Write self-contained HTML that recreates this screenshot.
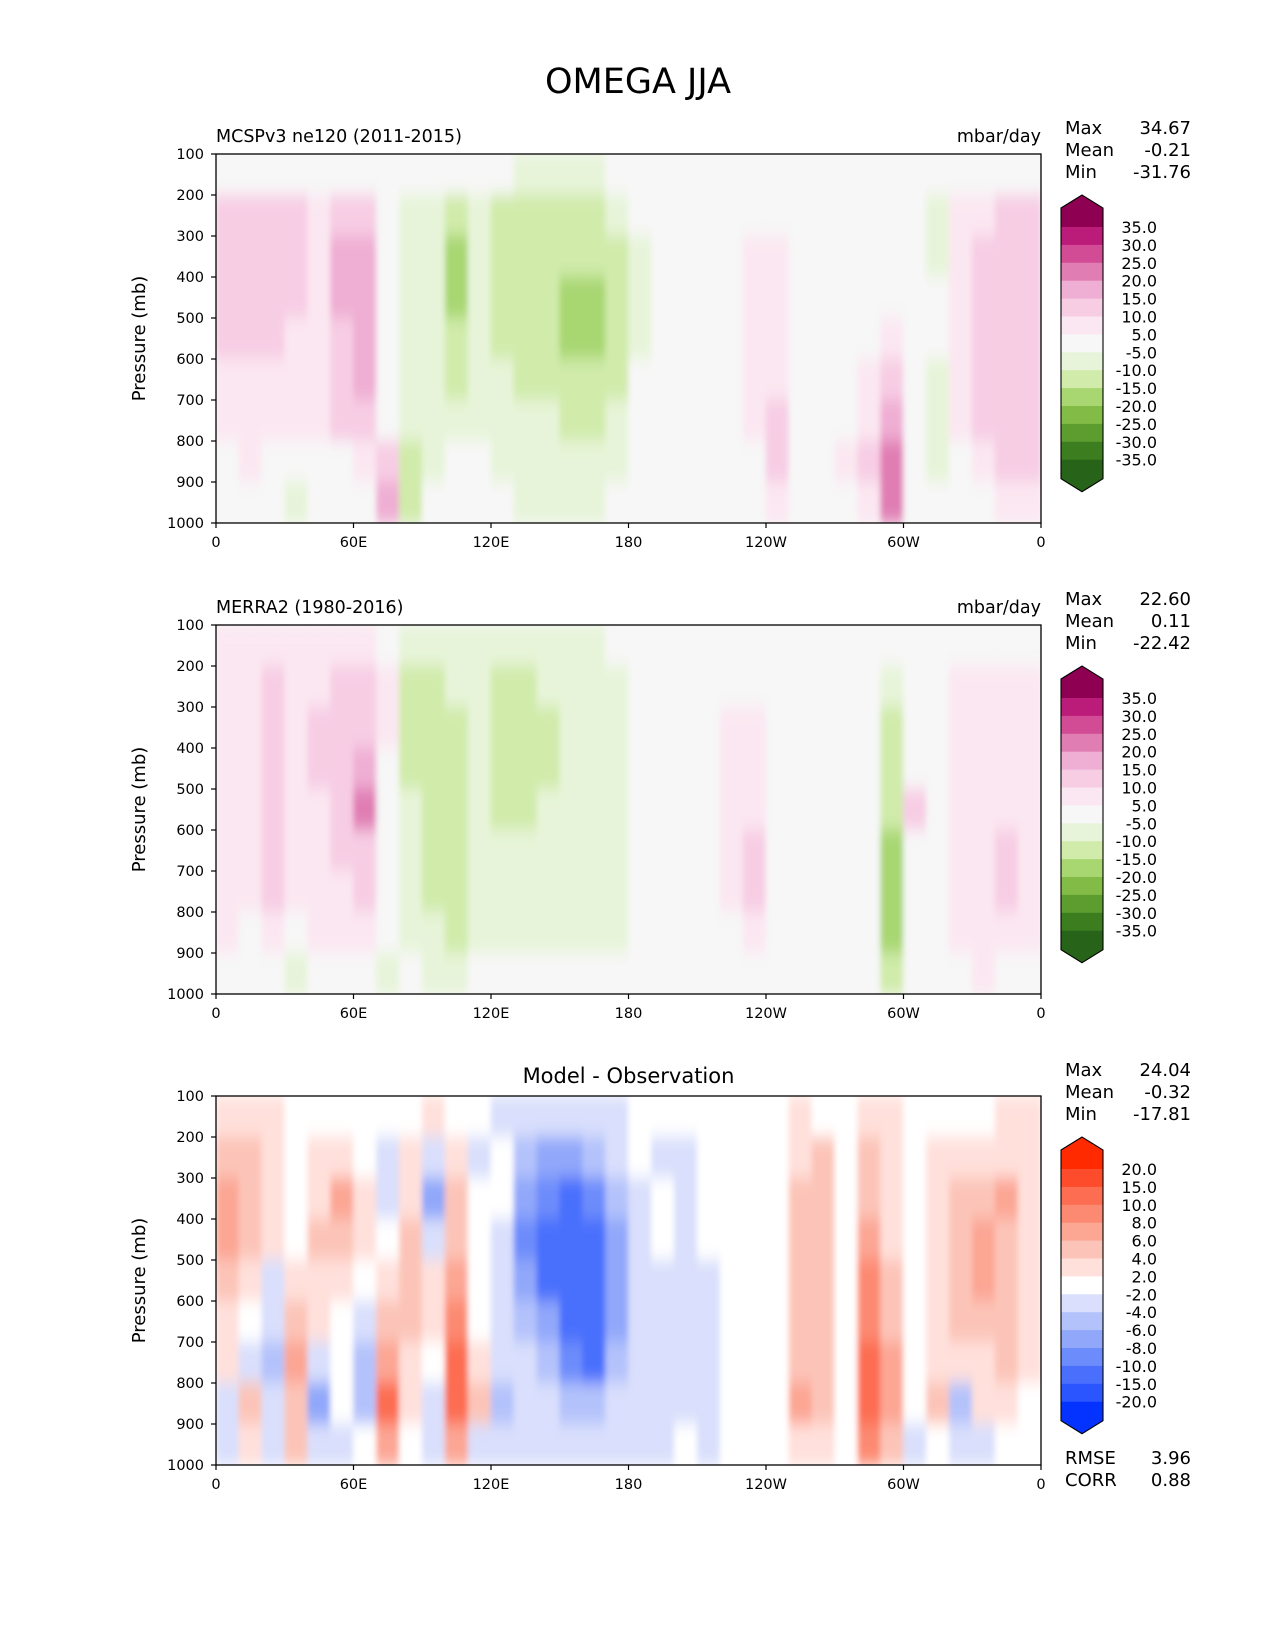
<!DOCTYPE html>
<html><head><meta charset="utf-8"><style>
html,body{margin:0;padding:0;background:#fff}
svg{display:block;font-family:"DejaVu Sans","Liberation Sans",sans-serif}
</style></head><body>
<svg id="fig" width="1275" height="1650" viewBox="0 0 1275 1650" xmlns="http://www.w3.org/2000/svg">
<defs>
<filter id="blur" filterUnits="userSpaceOnUse" x="0" y="0" width="1275" height="1650"><feGaussianBlur stdDeviation="3 8"/></filter>
<clipPath id="clip0"><rect x="216" y="154" width="825" height="369"/></clipPath>
<clipPath id="clip1"><rect x="216" y="625" width="825" height="369"/></clipPath>
<clipPath id="clip2"><rect x="216" y="1096" width="825" height="369"/></clipPath>
</defs>
<text x="638" y="93" font-size="35" text-anchor="middle">OMEGA JJA</text>
</svg>
<script>
// Longitude categories (10° columns) and pressure rows (100 mb bins)
const lonBins = [0,10,20,30,40,50,60,70,80,90,100,110,120,130,140,150,160,170,180,190,200,210,220,230,240,250,260,270,280,290,300,310,320,330,340,350];
const presBins = [100,200,300,400,500,600,700,800,900];
const yTicks = [100,200,300,400,500,600,700,800,900,1000];
const xTickLons = [0,60,120,180,240,300,360];
const xTickLabels = ["0","60E","120E","180","120W","60W","0"];

const modelField = [
[0,0,0,0,0,0,0,0,0,0,0,0,0,-6,-6,-6,-6,0,0,0,0,0,0,0,0,0,0,0,0,0,0,0,0,0,0,0],
[12,12,12,12,7,12,12,0,-7,-7,-15,-7,-12,-12,-12,-12,-12,-8,0,0,0,0,0,0,0,0,0,0,0,0,0,-6,6,7,12,12],
[12,12,12,12,7,17,17,0,-7,-8,-20,-8,-12,-15,-15,-15,-15,-12,-6,0,0,0,0,7,7,0,0,0,0,0,0,-6,7,12,12,12],
[12,12,12,12,7,17,17,0,-7,-8,-20,-8,-12,-15,-15,-20,-17,-12,-6,0,0,0,0,7,7,0,0,0,0,0,0,0,7,12,12,12],
[12,12,12,7,7,12,17,0,-7,-8,-15,-8,-12,-15,-15,-20,-17,-12,-6,0,0,0,0,7,7,0,0,0,0,7,0,0,7,12,12,12],
[7,7,7,7,7,12,17,0,-7,-7,-12,-7,-10,-12,-12,-15,-15,-12,0,0,0,0,0,7,7,0,0,0,7,12,0,-6,7,12,12,12],
[7,7,7,7,7,12,12,0,-7,-7,-7,-7,-7,-10,-10,-12,-12,-8,0,0,0,0,0,7,10,0,0,0,7,17,0,-6,7,12,12,12],
[0,7,0,0,0,0,7,12,-12,-7,0,0,-7,-7,-7,-7,-10,-7,0,0,0,0,0,0,10,0,0,7,12,22,0,-6,0,7,12,12],
[0,0,0,-6,0,0,0,15,-12,0,0,0,0,-7,-7,-7,-7,0,0,0,0,0,0,0,7,0,0,0,7,22,0,0,0,0,7,7]
];
const obsField = [
[6,6,6,6,6,6,6,0,-6,-6,-6,-6,-6,-6,-6,-6,-6,0,0,0,0,0,0,0,0,0,0,0,0,0,0,0,0,0,0,0],
[7,7,12,7,7,12,12,7,-12,-12,-10,-7,-12,-12,-7,-7,-7,-6,0,0,0,0,0,0,0,0,0,0,0,-7,0,0,7,7,7,7],
[7,7,12,7,12,12,12,7,-12,-12,-12,-7,-12,-12,-12,-7,-7,-6,0,0,0,0,7,7,0,0,0,0,0,-12,0,0,7,7,7,7],
[7,7,12,7,12,12,17,0,-12,-12,-12,-7,-12,-12,-12,-7,-7,-6,0,0,0,0,7,7,0,0,0,0,0,-12,0,0,7,7,7,7],
[7,7,12,7,7,12,20,0,-7,-12,-12,-7,-12,-12,-7,-7,-7,-6,0,0,0,0,7,7,0,0,0,0,0,-15,12,0,7,7,7,7],
[7,7,12,7,7,12,12,0,-7,-12,-15,-7,-7,-7,-7,-7,-7,-6,0,0,0,0,7,12,0,0,0,0,0,-20,0,0,7,7,12,7],
[7,7,12,7,7,7,12,0,-7,-12,-15,-7,-7,-7,-7,-7,-7,-6,0,0,0,0,7,12,0,0,0,0,0,-20,0,0,7,7,12,7],
[7,0,7,0,7,7,7,0,-7,-7,-12,-7,-7,-7,-7,-7,-7,-6,0,0,0,0,0,7,0,0,0,0,0,-20,0,0,7,7,7,7],
[0,0,0,-7,0,0,0,-7,0,-7,-7,0,0,0,0,0,0,0,0,0,0,0,0,0,0,0,0,0,0,-12,0,0,0,7,0,0]
];
const diffField = [
[3,3,3,0,0,0,0,0,0,3,0,0,-3,-3,-3,-3,-3,-3,0,0,0,0,0,0,0,3,0,0,3,3,0,0,0,0,3,3],
[5,5,3,0,3,3,0,-3,3,-3,3,-3,0,-5,-7,-7,-5,-3,0,-3,-3,0,0,0,0,3,5,0,5,3,0,3,3,3,3,3],
[7,5,3,0,3,7,3,-3,3,-7,5,0,0,-7,-9,-12,-9,-5,-3,0,-3,0,0,0,0,5,5,0,5,3,0,3,5,5,7,3],
[7,5,3,0,5,5,3,0,5,-3,5,0,-3,-9,-12,-12,-12,-7,-3,0,-3,0,0,0,0,5,5,0,7,3,0,3,5,7,5,3],
[5,3,-3,3,3,3,0,3,5,3,7,0,-3,-7,-12,-12,-12,-7,-3,-3,-3,-3,0,0,0,5,5,0,9,5,0,3,5,7,5,3],
[3,0,-3,5,3,0,-3,5,5,3,9,0,-3,-5,-7,-12,-12,-7,-3,-3,-3,-3,0,0,0,5,5,0,9,5,0,3,5,5,5,3],
[3,-3,-5,7,-3,0,-5,7,3,0,12,3,-3,-3,-5,-9,-12,-5,-3,-3,-3,-3,0,0,0,5,5,0,12,7,0,3,3,3,5,3],
[-3,5,-3,5,-7,0,-5,12,3,-3,12,5,-5,-3,-3,-5,-5,-3,-3,-3,-3,-3,0,0,0,7,5,0,12,7,0,5,-5,3,3,0],
[-3,3,-3,5,-3,-3,0,7,0,-3,7,-3,-3,-3,-3,-3,-3,-3,-3,-3,0,-3,0,0,0,3,3,0,9,5,-3,0,-3,-3,0,0]
];

const omegaLevels = [-35,-30,-25,-20,-15,-10,-5,5,10,15,20,25,30,35];
const omegaLabels = ["35.0","30.0","25.0","20.0","15.0","10.0","5.0","-5.0","-10.0","-15.0","-20.0","-25.0","-30.0","-35.0"];
const omegaColors = ["#276419","#3b7d1f","#5d9d2f","#83bb47","#a8d772","#d0ebaa","#e7f4d9","#f7f7f7","#fbe7f1","#f7cde4","#efaed3","#e07eb4","#d24c95","#bc1c79","#8e0152"];
const diffLevels = [-20,-15,-10,-8,-6,-4,-2,2,4,6,8,10,15,20];
const diffLabels = ["20.0","15.0","10.0","8.0","6.0","4.0","2.0","-2.0","-4.0","-6.0","-8.0","-10.0","-15.0","-20.0"];
const diffColors = ["#0433ff","#2a55ff","#4a6ffd","#6d8cfb","#91a7fa","#b4c2fb","#d9dffc","#ffffff","#ffe0db","#fcc4b8","#fca694","#fc8a72","#fc6d51","#fd4c2c","#ff2a00"];

const panels = [
 {top:154, title:"MCSPv3 ne120 (2011-2015)", units:"mbar/day", field:modelField, levels:omegaLevels, colors:omegaColors, labels:omegaLabels, stats:[["Max","34.67"],["Mean","-0.21"],["Min","-31.76"]]},
 {top:625, title:"MERRA2 (1980-2016)", units:"mbar/day", field:obsField, levels:omegaLevels, colors:omegaColors, labels:omegaLabels, stats:[["Max","22.60"],["Mean","0.11"],["Min","-22.42"]]},
 {top:1096, title:"Model - Observation", units:"", field:diffField, levels:diffLevels, colors:diffColors, labels:diffLabels, stats:[["Max","24.04"],["Mean","-0.32"],["Min","-17.81"]]}
];

const NS = "http://www.w3.org/2000/svg";
const svg = document.getElementById('fig');
const L = 216, W = 825, H = 369;
function mk(tag, attrs, parent){const e=document.createElementNS(NS,tag);for(const k in attrs)e.setAttribute(k,attrs[k]);(parent||svg).appendChild(e);return e;}
function colorFor(v, levels, colors){let i=0;while(i<levels.length && v>=levels[i])i++;return colors[i];}

panels.forEach((p,pi)=>{
  const T = p.top;
  const xs = lon => L + lon/360*W;
  const ys = pr => T + (pr-100)/900*H;
  const g = mk('g',{'clip-path':'url(#clip'+pi+')'});
  
  
  mk('rect',{x:L,y:T,width:W,height:H,fill:p.colors[7]},g);
  const fg = mk('g',{filter:'url(#blur)'},g);
  p.field.forEach((row,ri)=>{
    row.forEach((v,ci)=>{
      const c = mk('rect',{x:xs(lonBins[ci])-0.3,y:ys(presBins[ri])-0.3,width:W/36+0.6,height:H/9+0.6,fill:colorFor(v,p.levels,p.colors)},fg);
      
      
    });
  });
  const frame = mk('rect',{x:L,y:T,width:W,height:H,fill:'none',stroke:'#000','stroke-width':1.3});
  
  
  yTicks.forEach(t=>{
    const y = ys(t);
    mk('line',{x1:L-5,x2:L,y1:y,y2:y,stroke:'#000','stroke-width':1.2});
    const tx = mk('text',{x:L-12,y:y+5,'font-size':14.5,'text-anchor':'end'});
    tx.textContent = t;
    
    
  });
  xTickLons.forEach((lon,i)=>{
    const x = xs(lon);
    mk('line',{x1:x,x2:x,y1:T+H,y2:T+H+5,stroke:'#000','stroke-width':1.2});
    const tx = mk('text',{x:x,y:T+H+24,'font-size':14.5,'text-anchor':'middle'});
    tx.textContent = xTickLabels[i];
    
    
  });
  const yl = mk('text',{x:0,y:0,'font-size':18,'text-anchor':'middle',transform:'translate(145,'+(T+H/2)+') rotate(-90)'});
  yl.textContent = 'Pressure (mb)';
  
  
  if(pi<2){
    const t1 = mk('text',{x:L,y:T-12,'font-size':17.5});
    t1.textContent = p.title;
    
    
    const t2 = mk('text',{x:L+W,y:T-12,'font-size':17.5,'text-anchor':'end'});
    t2.textContent = p.units;
    
    
  } else {
    const t1 = mk('text',{x:L+W/2,y:T-13,'font-size':21,'text-anchor':'middle'});
    t1.textContent = p.title;
    
    
  }
  p.stats.forEach((s,si)=>{
    const y = T-20+si*22;
    const a = mk('text',{x:1065,y:y,'font-size':18});
    a.textContent = s[0];
    
    
    const b = mk('text',{x:1191,y:y,'font-size':18,'text-anchor':'end'});
    b.textContent = s[1];
    
    
  });
  const cx0 = 1061, cx1 = 1103, bh = 17.9;
  const b35 = T + 73;
  const cb = mk('g',{});
  
  
  const n = p.colors.length;
  const topRect = b35 - 19, botRect = b35 + 13*bh + 19;
  mk('polygon',{points:cx0+','+topRect+' '+((cx0+cx1)/2)+','+(topRect-13)+' '+cx1+','+topRect+' '+cx1+','+b35+' '+cx0+','+b35,fill:p.colors[n-1]},cb);
  for(let k=0;k<13;k++){
    mk('rect',{x:cx0,y:b35+k*bh,width:cx1-cx0,height:bh+0.5,fill:p.colors[n-2-k]},cb);
  }
  const be = b35+13*bh;
  mk('polygon',{points:cx0+','+be+' '+cx1+','+be+' '+cx1+','+botRect+' '+((cx0+cx1)/2)+','+(botRect+13)+' '+cx0+','+botRect,fill:p.colors[0]},cb);
  mk('polygon',{points:cx0+','+topRect+' '+((cx0+cx1)/2)+','+(topRect-13)+' '+cx1+','+topRect+' '+cx1+','+botRect+' '+((cx0+cx1)/2)+','+(botRect+13)+' '+cx0+','+botRect,fill:'none',stroke:'#000','stroke-width':1.1},cb);
  p.labels.forEach((lb,k)=>{
    const tx = mk('text',{x:1157,y:b35+k*bh+6,'font-size':16,'text-anchor':'end'},cb);
    tx.textContent = lb;
    
    
  });
});
[["RMSE","3.96",1464],["CORR","0.88",1486]].forEach(s=>{
  const a = mk('text',{x:1065,y:s[2],'font-size':18});
  a.textContent = s[0];
  
  
  const b = mk('text',{x:1191,y:s[2],'font-size':18,'text-anchor':'end'});
  b.textContent = s[1];
  
  
});
</script>
</body></html>
